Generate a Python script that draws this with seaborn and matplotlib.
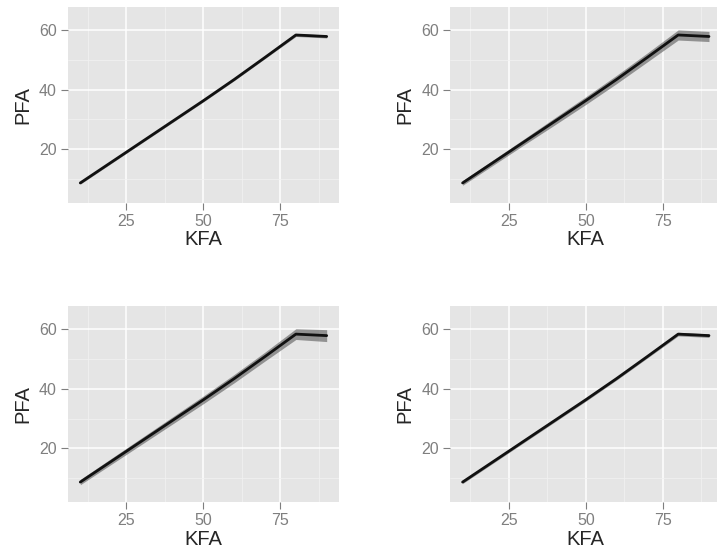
# Four small ggplot-style panels of PFA against KFA, each with an uncertainty band.

import numpy as np
import pandas as pd
import seaborn as sns
import matplotlib.pyplot as plt
from matplotlib.ticker import FixedLocator

kfa = [10, 20, 30, 40, 50, 60, 70, 80, 90]
pfa = [8.7, 15.6, 22.5, 29.4, 36.3, 43.4, 50.8, 58.3, 57.8]

# band half-widths for each panel (top-left, top-right, bottom-left, bottom-right)
band_tl = [0.4, 0.4, 0.4, 0.4, 0.4, 0.4, 0.4, 0.5, 0.5]
band_tr = [0.8, 0.9, 1.0, 1.2, 1.3, 1.4, 1.5, 1.7, 1.7]
band_bl = [0.9, 1.0, 1.1, 1.2, 1.3, 1.4, 1.5, 1.8, 2.0]
band_br = [0.5, 0.5, 0.5, 0.5, 0.5, 0.5, 0.5, 0.6, 0.6]

bands = [band_tl, band_tr, band_bl, band_br]

sns.set_theme(style="darkgrid")
plt.rcParams['font.family'] = ['Liberation Sans', 'DejaVu Sans']

fig = plt.figure(figsize=(7.17, 5.56), dpi=100)

lefts = [0.0948, 0.628]
bottoms = [0.635, 0.097]
w, h = 0.378, 0.3525

df = pd.DataFrame({"KFA": kfa, "PFA": pfa})

i = 0
for b in bottoms:
    for l in lefts:
        ax = fig.add_axes([l, b, w, h])
        ax.set_facecolor("#E5E5E5")
        lo = np.array(pfa) - np.array(bands[i])
        hi = np.array(pfa) + np.array(bands[i])
        ax.fill_between(kfa, lo, hi, color="#5a5a5a", alpha=0.6, linewidth=0, zorder=2)
        sns.lineplot(data=df, x="KFA", y="PFA", ax=ax, color="#111111", linewidth=2.0, zorder=3)
        ax.set_xlim(6, 94)
        ax.set_ylim(2, 67.7)
        ax.xaxis.set_major_locator(FixedLocator([25, 50, 75]))
        ax.yaxis.set_major_locator(FixedLocator([20, 40, 60]))
        ax.xaxis.set_minor_locator(FixedLocator([12.5, 37.5, 62.5, 87.5]))
        ax.yaxis.set_minor_locator(FixedLocator([10, 30, 50]))
        ax.grid(which="major", color="white", linewidth=1.1)
        ax.grid(which="minor", color="#F2F2F2", linewidth=0.5)
        ax.set_axisbelow(True)
        for s in ax.spines.values():
            s.set_visible(False)
        ax.tick_params(which="major", length=5, width=0.8, color="#7f7f7f",
                       labelcolor="#7f7f7f", labelsize=11.5, pad=3, bottom=True, left=True)
        ax.tick_params(which="minor", length=0)
        ax.set_xlabel("KFA", fontsize=14.5, labelpad=1)
        ax.set_ylabel("PFA", fontsize=14.5, labelpad=5)
        i += 1

fig.savefig("out.png", dpi=100)
